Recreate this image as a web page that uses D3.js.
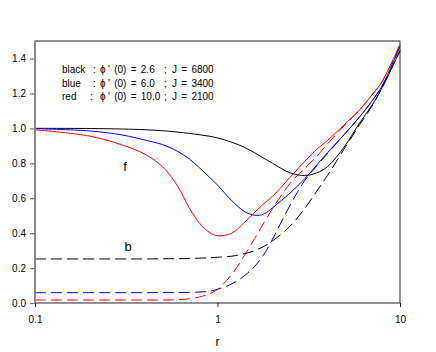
<!DOCTYPE html>
<html>
<head>
<meta charset="utf-8">
<script src="https://cdn.jsdelivr.net/npm/d3@7"></script>
<style>
  body { margin: 0; background: #fff; }
  svg { display: block; font-family: "Liberation Sans", Arial, sans-serif; }
</style>
</head>
<body>
<svg></svg>
<script>
var width = 436;
var height = 352;
var margin = {top: 41, right: 36, bottom: 49, left: 35};

// r values shared by all curves
var rValues = [0.1, 0.2, 0.3, 0.4, 0.5, 0.6, 0.7, 0.8, 0.9, 1, 1.2, 1.4, 1.6, 1.8, 2, 2.5, 3, 3.5, 4, 5, 6, 7, 8, 10];

// f curves (solid)
var fBlack = [1.0, 0.999, 0.996, 0.992, 0.986, 0.979, 0.971, 0.963, 0.955, 0.945, 0.92, 0.892, 0.86, 0.828, 0.80, 0.745, 0.73, 0.745, 0.78, 0.90, 1.03, 1.13, 1.235, 1.445];
var fBlue  = [0.998, 0.985, 0.962, 0.933, 0.907, 0.87, 0.825, 0.772, 0.722, 0.675, 0.585, 0.525, 0.502, 0.51, 0.545, 0.63, 0.71, 0.79, 0.86, 0.97, 1.065, 1.155, 1.245, 1.47];
var fRed   = [0.992, 0.955, 0.905, 0.852, 0.78, 0.675, 0.545, 0.455, 0.405, 0.385, 0.40, 0.46, 0.52, 0.57, 0.61, 0.72, 0.81, 0.88, 0.93, 1.025, 1.105, 1.19, 1.27, 1.48];

// b curves (dashed)
var bBlack = [0.252, 0.252, 0.252, 0.252, 0.253, 0.254, 0.255, 0.257, 0.259, 0.262, 0.268, 0.282, 0.30, 0.325, 0.355, 0.44, 0.54, 0.64, 0.73, 0.89, 1.02, 1.125, 1.235, 1.445];
var bBlue  = [0.059, 0.059, 0.059, 0.059, 0.06, 0.06, 0.061, 0.063, 0.067, 0.078, 0.11, 0.155, 0.21, 0.28, 0.365, 0.56, 0.70, 0.785, 0.855, 0.97, 1.065, 1.155, 1.245, 1.47];
var bRed   = [0.017, 0.017, 0.017, 0.017, 0.017, 0.019, 0.024, 0.035, 0.052, 0.078, 0.165, 0.27, 0.37, 0.46, 0.54, 0.685, 0.77, 0.84, 0.91, 1.02, 1.105, 1.19, 1.27, 1.48];

var xTicks = [0.1, 1, 10];
var yTicks = [0, 0.2, 0.4, 0.6, 0.8, 1.0, 1.2, 1.4];

var legendNames = ["black", "blue", "red"];
var legendPhi = ["2.6", "6.0", "10.0"];
var legendJ = ["6800", "3400", "2100"];

var series = [
  {values: bBlack, color: "#000", dash: true},
  {values: bBlue, color: "#0000ff", dash: true},
  {values: bRed, color: "#ff0000", dash: true},
  {values: fBlack, color: "#000", dash: false},
  {values: fBlue, color: "#0000ff", dash: false},
  {values: fRed, color: "#ff0000", dash: false}
];

var x = d3.scaleLog()
          .domain([0.1, 10])
          .range([margin.left, width - margin.right]);

var y = d3.scaleLinear()
          .domain([0, 1.5])
          .range([height - margin.bottom, margin.top]);

var svg = d3.select("svg")
    .attr("width", width)
    .attr("height", height);

// frame
svg.append("rect")
    .attr("x", x(0.1))
    .attr("y", y(1.5))
    .attr("width", x(10) - x(0.1))
    .attr("height", y(0) - y(1.5))
    .attr("fill", "none")
    .attr("stroke", "#222")
    .attr("stroke-width", 1);

// curves - catmull rom keeps them smooth through the read points
var line = d3.line()
             .x((d, i) => x(rValues[i]))
             .y(d => y(d))
             .curve(d3.curveCatmullRom.alpha(0.5));

svg.selectAll(".curve")
   .data(series)
   .enter()
   .append("path")
     .classed("curve", true)
     .attr("d", d => line(d.values))
     .attr("fill", "none")
     .attr("stroke", d => d.color)
     .attr("stroke-width", 1)
     .attr("stroke-dasharray", d => d.dash ? "11,5" : null);

// y axis
var yAxis = svg.append("g")
    .attr("transform", "translate(" + margin.left + ",0)")
    .call(d3.axisLeft(y).tickValues(yTicks).tickFormat(d3.format(".1f")).tickSize(5).tickPadding(4));
yAxis.select(".domain").remove();
yAxis.selectAll("line").attr("stroke", "#777").attr("stroke-width", 1.2);
yAxis.selectAll("text").attr("font-size", 10).attr("fill", "#000")
     .attr("font-family", "'Liberation Sans', Arial, sans-serif");

svg.append("line")
    .attr("x1", margin.left).attr("x2", margin.left)
    .attr("y1", y(1.5)).attr("y2", y(0) + 1)
    .attr("stroke", "#888")
    .attr("stroke-width", 1.6);

// x axis
var xAxis = svg.append("g")
    .attr("transform", "translate(0," + (height - margin.bottom) + ")")
    .call(d3.axisBottom(x).tickValues(xTicks).tickFormat(d => d).tickSize(4).tickPadding(9));
xAxis.select(".domain").remove();
xAxis.selectAll("line").attr("stroke", "#222");
xAxis.selectAll("text").attr("font-size", 10).attr("fill", "#000")
     .attr("font-family", "'Liberation Sans', Arial, sans-serif");

svg.append("text")
    .attr("x", x(1))
    .attr("y", 346)
    .attr("text-anchor", "middle")
    .attr("font-size", 12)
    .text("r");

// curve labels
svg.append("text").attr("x", 125).attr("y", 171).attr("text-anchor", "middle").attr("font-size", 13).text("f");
svg.append("text").attr("x", 128).attr("y", 251).attr("text-anchor", "middle").attr("font-size", 13).text("b");

// legend
var legend = svg.append("g").attr("font-size", 10);
legendNames.forEach(function(name, i) {
  var t = legend.append("text").attr("y", 73 + i * 13.5);
  t.append("tspan").attr("x", 62).text(name);
  t.append("tspan").attr("x", name === "red" ? 90 : 93).text(":");
  t.append("tspan").attr("x", 100).text("\u03d5");
  t.append("tspan").attr("x", 108).attr("word-spacing", 1.5).text("' (0) = " + legendPhi[i]);
  t.append("tspan").attr("x", 164).text(";");
  t.append("tspan").attr("x", 172).attr("word-spacing", 1.5).text("J = " + legendJ[i]);
});
</script>
</body>
</html>
